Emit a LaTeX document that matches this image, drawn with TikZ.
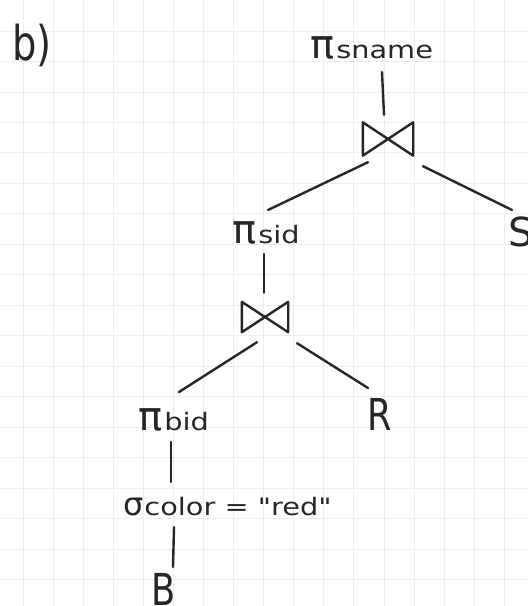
\documentclass[tikz,border=0pt]{standalone}
\usepackage{fontspec}
\setmainfont{DejaVu Sans}
% same family without the TeX quote ligatures, for straight quote marks
\newfontfamily\plainfont{DejaVu Sans}
\usetikzlibrary{calc}
\definecolor{inkc}{HTML}{262626}
\definecolor{gridc}{HTML}{EDEDED}
% operator symbol with its subscript, subscript slightly widened like handwriting
\newcommand{\opsub}[2]{{\fontsize{40}{40}\selectfont #1}\hspace{2pt}\scalebox{1.2}[1]{#2}}
\begin{document}
\begin{tikzpicture}[x=1pt,y=-1pt,
  ink/.style={draw=inkc, line width=2.4pt, line cap=round},
  lbl/.style={anchor=base west, inner sep=0pt, text=inkc, font=\fontsize{24}{28}\selectfont},
  rel/.style={anchor=base west, inner sep=0pt, text=inkc, font=\fontsize{44}{48}\selectfont},
  gridline/.style={draw=gridc, line width=0.8pt}]

% paper and its squared ruling
\fill[white] (0,0) rectangle (528,606);
\useasboundingbox (0,0) rectangle (528,606);
\foreach \k in {0,...,16} \draw[gridline] ({23+30.08*\k},0) -- ({23+30.08*\k},606);
\foreach \k in {0,...,18} \draw[gridline] (0,{31+30.47*\k}) -- (528,{31+30.47*\k});

% part label
\node[rel, font=\fontsize{48}{52}\selectfont] (part) at (12,60) {\scalebox{0.8}[1]{b)}};

% tree nodes
\node[lbl] (psname) at (310,58) {\opsub{π}{sname}};
\node[minimum width=50pt, minimum height=33pt, inner sep=0pt] (j1) at (388,139) {};
\node[lbl] (psid) at (232,243) {\opsub{π}{sid}};
\node[rel, font=\fontsize{40}{44}\selectfont] (S) at (508,246) {S};
\node[minimum width=46pt, minimum height=30pt, inner sep=0pt] (j2) at (265,317) {};
\node[lbl] (pbid) at (138,430) {\opsub{π}{bid}};
\node[rel] (R) at (367,430) {\scalebox{0.8}[1]{R}};
\node[lbl] (sel) at (123,515) {{\fontsize{32}{32}\selectfont σ}\hspace{1pt}\scalebox{1.2}[1]{\plainfont color = "red"}};
\node[rel] (B) at (151,605) {\scalebox{0.8}[1]{B}};

% join symbols
\draw[ink, line join=round] (j1.north west) -- (j1.south east) -- (j1.north east) -- (j1.south west) -- cycle;
\draw[ink, line join=round] (j2.north west) -- (j2.south east) -- (j2.north east) -- (j2.south west) -- cycle;

% edges
\draw[ink] ($(psname.base west)+(72,14)$) -- ($(j1.north)+(-4,-7.5)$);
\draw[ink] ($(j1.south)+(-20,6.5)$) -- ($(psid.base west)+(36,-33)$);
\draw[ink] ($(j1.south)+(35,10.5)$) -- ($(S.base west)+(4,-36)$);
\draw[ink] ($(psid.base west)+(32,11)$) -- ($(j2.north)+(-1,-9)$);
\draw[ink] ($(j2.south)+(-8,10)$) -- ($(pbid.base west)+(41,-38)$);
\draw[ink] ($(j2.south)+(32,11)$) -- ($(R.base west)+(1,-42)$);
\draw[ink] ($(pbid.base west)+(33,12)$) -- ($(sel.base west)+(48,-33)$);
\draw[ink] ($(sel.base west)+(51,12)$) -- ($(B.base west)+(22,-38)$);
\end{tikzpicture}
\end{document}
